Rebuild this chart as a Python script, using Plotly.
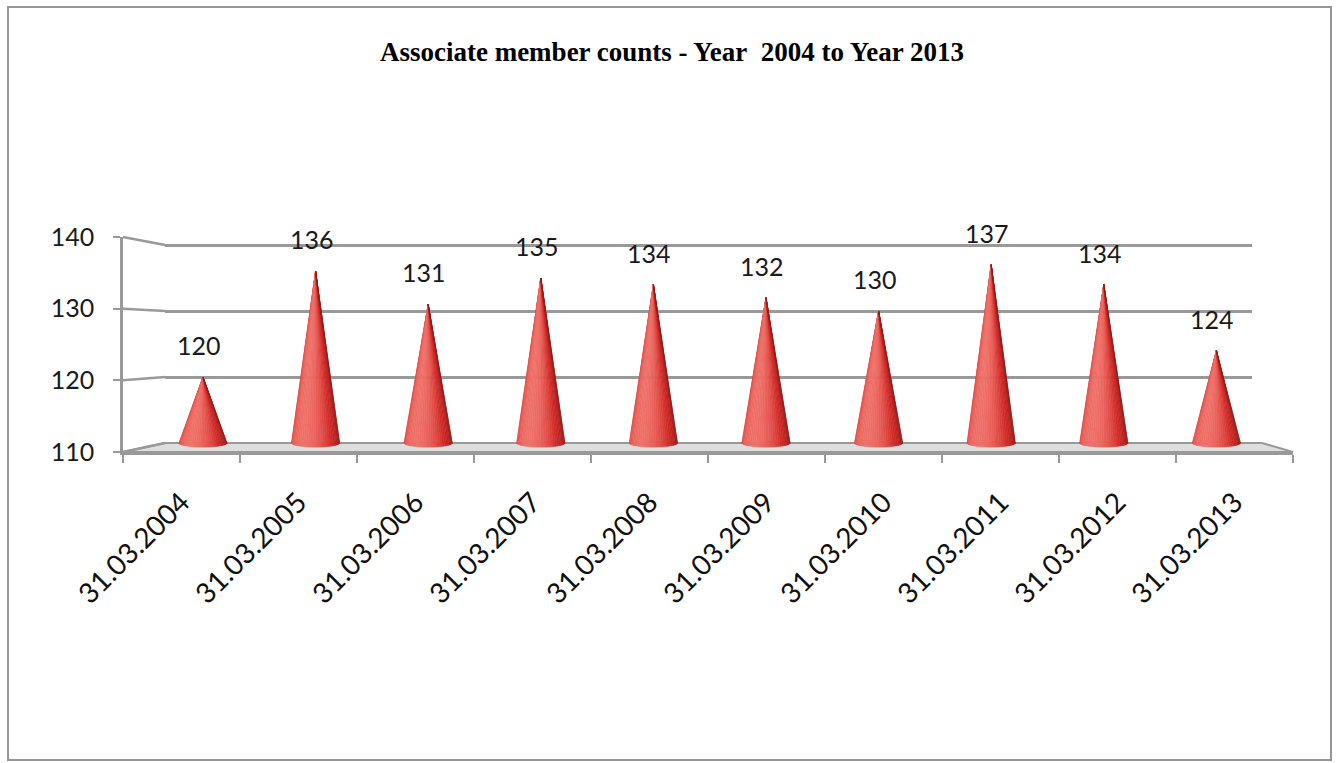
import math
import plotly.graph_objects as go

# ---- data -------------------------------------------------------------
dates = ["31.03.2004", "31.03.2005", "31.03.2006", "31.03.2007", "31.03.2008",
         "31.03.2009", "31.03.2010", "31.03.2011", "31.03.2012", "31.03.2013"]
members = [120, 136, 131, 135, 134, 132, 130, 137, 134, 124]
y_ticks = [110, 120, 130, 140]
title_text = "Associate member counts - Year\u00a0 2004 to Year 2013"

# ---- canvas geometry (pixels) ----------------------------------------
W, H = 1337, 763
def fx(px):
    return px / W
def fy(py):
    return 1 - py / H

# back wall (cones + gridlines)
BACK_L, BACK_R = 165, 1252
CONE0, CONE_STEP = 203, 112.6
BACK_PX_PER_UNIT = 6.6
BACK_Y110 = 443
BACK_BOTTOM_PX = 455
BACK_TOP_PX = 240
back_min = 110 - (BACK_BOTTOM_PX - BACK_Y110) / BACK_PX_PER_UNIT
back_max = 110 + (BACK_Y110 - BACK_TOP_PX) / BACK_PX_PER_UNIT

# front axis frame
FRONT_L, FRONT_R = 123, 1293
FRONT_Y110, FRONT_Y140 = 452, 237

def back_py(v):
    return BACK_Y110 - (v - 110) * BACK_PX_PER_UNIT
def front_py(v):
    return FRONT_Y110 - (v - 110) * (FRONT_Y110 - FRONT_Y140) / 30.0

GRID = "#999999"
fig = go.Figure()

# ---- cones: built from vertical slices with a simple lighting model ----
N_SLICES = 30
HALF_W = 0.215     # base half-width in category units
BASE_DIP = 0.62    # elliptical base depth in value units
light = (238, 112, 104)
mid = (212, 44, 40)
dark = (140, 20, 20)

def mix(a, b, t):
    t = max(0.0, min(1.0, t))
    return tuple(int(round(a[k] + (b[k] - a[k]) * t)) for k in range(3))

def shade(theta):
    t = math.cos(theta - math.radians(-30))
    if t > 0.35:
        c = mix(mid, light, (t - 0.35) / 0.65)
    else:
        c = mix(dark, mid, (t + 0.6) / 0.95)
    return "rgb(%d,%d,%d)" % c

for s in range(N_SLICES):
    th0 = -math.pi / 2 + math.pi * s / N_SLICES
    th1 = -math.pi / 2 + math.pi * (s + 1) / N_SLICES
    col = shade((th0 + th1) / 2)
    xs, ys = [], []
    for i, v in enumerate(members):
        xs += [i, i + HALF_W * math.sin(th0), i + HALF_W * math.sin(th1), i, None]
        ys += [v, 110 - BASE_DIP * math.cos(th0), 110 - BASE_DIP * math.cos(th1), v, None]
    fig.add_trace(go.Scatter(
        x=xs, y=ys, xaxis="x", yaxis="y", mode="lines", fill="toself",
        fillcolor=col, line=dict(color=col, width=0.6),
        hoverinfo="skip", showlegend=False))

# invisible trace that defines the categories of the front axis
fig.add_trace(go.Scatter(x=dates, y=members, xaxis="x2", yaxis="y2",
                         mode="none", hoverinfo="skip", showlegend=False))

# ---- value labels -----------------------------------------------------
for i, v in enumerate(members):
    fig.add_annotation(x=i, y=v, xref="x", yref="y", text=str(v),
                       showarrow=False, yanchor="bottom", yshift=15, xshift=-4,
                       font=dict(family="Lato", size=25, color="#1a1a1a"))

# ---- floor and side-wall grid segments --------------------------------
shapes = []
floor_path = "M {} {} L {} {} L {} {} L {} {} Z".format(
    fx(FRONT_L), fy(FRONT_Y110), fx(BACK_L), fy(back_py(110)),
    fx(BACK_R + 10), fy(back_py(110)), fx(FRONT_R), fy(FRONT_Y110))
shapes.append(dict(type="path", path=floor_path, xref="paper", yref="paper",
                   fillcolor="#dedede", line=dict(color=GRID, width=2),
                   layer="below"))
for v in y_ticks:
    shapes.append(dict(type="line", xref="paper", yref="paper",
                       x0=fx(FRONT_L), y0=fy(front_py(v)),
                       x1=fx(BACK_L), y1=fy(back_py(v)),
                       line=dict(color=GRID, width=2.5), layer="below"))
# chart frame
shapes.append(dict(type="rect", xref="paper", yref="paper",
                   x0=fx(8), y0=fy(760), x1=fx(1331), y1=fy(7),
                   line=dict(color="#969696", width=2), layer="below"))

fig.update_layout(
    width=W, height=H,
    margin=dict(l=0, r=0, t=0, b=0, autoexpand=False),
    paper_bgcolor="white", plot_bgcolor="rgba(0,0,0,0)",
    shapes=shapes,
    title=dict(text=title_text, x=fx(672), y=fy(52), xanchor="center",
               yanchor="middle", automargin=False,
               font=dict(family="Liberation Serif", size=27, color="black",
                         weight="bold")),
    xaxis=dict(domain=[fx(BACK_L), fx(BACK_R)],
               range=[(BACK_L - CONE0) / CONE_STEP, (BACK_R - CONE0) / CONE_STEP],
               showgrid=False, zeroline=False, showticklabels=False,
               showline=False, anchor="y", automargin=False),
    yaxis=dict(domain=[fy(BACK_BOTTOM_PX), fy(BACK_TOP_PX)],
               range=[back_min, back_max], tickvals=[120, 130, 140],
               showgrid=True, gridcolor=GRID, gridwidth=2.8,
               zeroline=False, showticklabels=False, showline=False,
               anchor="x", automargin=False),
    xaxis2=dict(domain=[fx(FRONT_L), fx(FRONT_R)], type="category",
                range=[-0.5, 9.5], anchor="y2", automargin=False,
                showline=True, linecolor=GRID, linewidth=2.5,
                ticks="outside", tickson="boundaries", ticklen=8,
                tickcolor=GRID, tickwidth=2, tickangle=-45,
                ticklabelstandoff=20, showgrid=False, zeroline=False,
                tickfont=dict(family="Lato", size=28, color="#111111")),
    yaxis2=dict(domain=[fy(FRONT_Y110), fy(FRONT_Y140)], range=[110, 140],
                tickvals=y_ticks, anchor="x2", side="left", automargin=False,
                showline=True, linecolor=GRID, linewidth=2.5,
                ticks="outside", ticklen=7, tickcolor=GRID, tickwidth=2,
                ticklabelstandoff=14, showgrid=False, zeroline=False,
                tickfont=dict(family="Lato", size=25, color="#1a1a1a")),
)

fig.write_html("out.html")
